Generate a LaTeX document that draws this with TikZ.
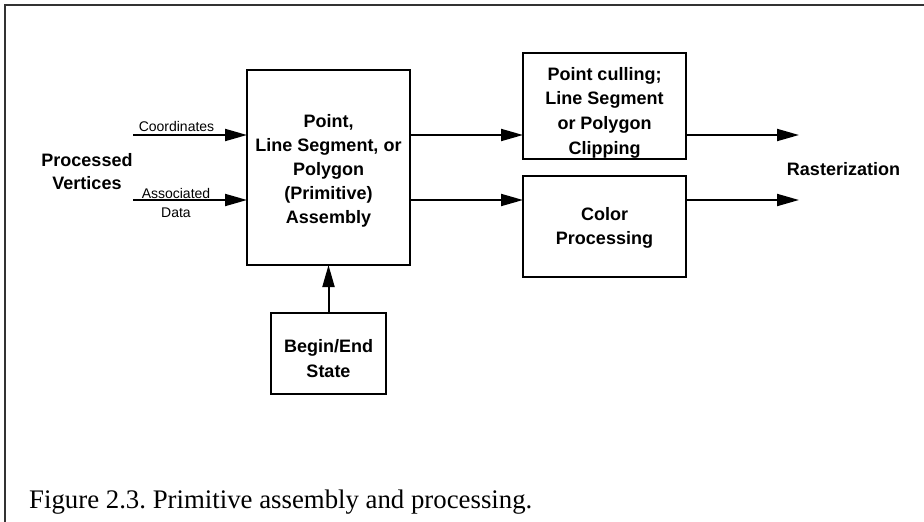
\documentclass[tikz,border=0pt]{standalone}
\usepackage{fontspec}
\setmainfont{Liberation Sans}
\newfontfamily\capfont{Liberation Serif}
\usetikzlibrary{arrows.meta}
\tikzset{
  blk/.style={draw=black, line width=2pt, inner sep=0pt, outer sep=0pt, fill=none},
  btxt/.style={align=center, inner sep=0pt, font=\bfseries\fontsize{18}{24}\selectfont},
  stxt/.style={align=center, inner sep=0pt, font=\fontsize{14}{19}\selectfont},
  conn/.style={line width=2pt, -{Triangle[length=22pt,width=12pt]}},
  frameline/.style={line width=1.5pt, draw=black!80}
}
\begin{document}
\frenchspacing
\begin{tikzpicture}[x=1pt, y=-1pt]
\useasboundingbox (0,0) rectangle (924,522);
% frame
\coordinate (ftl) at (5,5);
\coordinate (ftr) at (924,5);
\coordinate (fbl) at (5,522);
\draw[frameline] (ftr) -- (ftl) -- (fbl);
% boxes
\node[blk, minimum width=163pt, minimum height=195pt] (asm) at (328.5,167.5) {};
\node[blk, minimum width=163pt, minimum height=106pt] (clip) at (604.5,106) {};
\node[blk, minimum width=163pt, minimum height=101pt] (color) at (604.5,226.5) {};
\node[blk, minimum width=115pt, minimum height=81pt] (state) at (328.5,353.5) {};
% box texts
\node[btxt] (asmT) at (328.5,171) {Point,\\Line Segment, or\\Polygon\\(Primitive)\\Assembly};
\node[btxt, font=\bfseries\fontsize{18}{24.6}\selectfont] (clipT) at (604.5,112.5) {Point culling;\\Line Segment\\or Polygon\\Clipping};
\node[btxt] (colorT) at (604.5,227.5) {Color\\Processing};
\node[btxt, font=\bfseries\fontsize{18}{25}\selectfont] (stateT) at (328.5,359) {Begin/End\\State};
% side labels
\node[btxt, font=\bfseries\fontsize{18}{23}\selectfont] (pv) at (87,171.5) {Processed\\Vertices};
\node[btxt] (rast) at (843.5,169.5) {Rasterization};
\node[stxt, anchor=base] (coordL) at (176.5,131.5) {Coordinates};
\node[stxt, anchor=base] (assocL) at (176,198) {Associated};
\node[stxt, anchor=base] (dataL) at (176,217) {Data};
% connector endpoints
\coordinate (in1) at (133,135);
\coordinate (in2) at (133,200);
\coordinate (out1) at (799,135);
\coordinate (out2) at (799,200);
% connectors
\draw[conn] (in1) -- (in1 -| asm.west);
\draw[conn] (in2) -- (in2 -| asm.west);
\draw[conn] (in1 -| asm.east) -- (in1 -| clip.west);
\draw[conn] (in2 -| asm.east) -- (in2 -| color.west);
\draw[conn] (in1 -| clip.east) -- (out1);
\draw[conn] (in2 -| color.east) -- (out2);
\draw[conn] (state.north) -- (asm.south);
% caption
\node[anchor=base west, inner sep=0pt, font=\capfont\fontsize{26.8}{30}\selectfont] (cap) at (29,508) {Figure 2.3. Primitive assembly and processing.};
\end{tikzpicture}
\end{document}
